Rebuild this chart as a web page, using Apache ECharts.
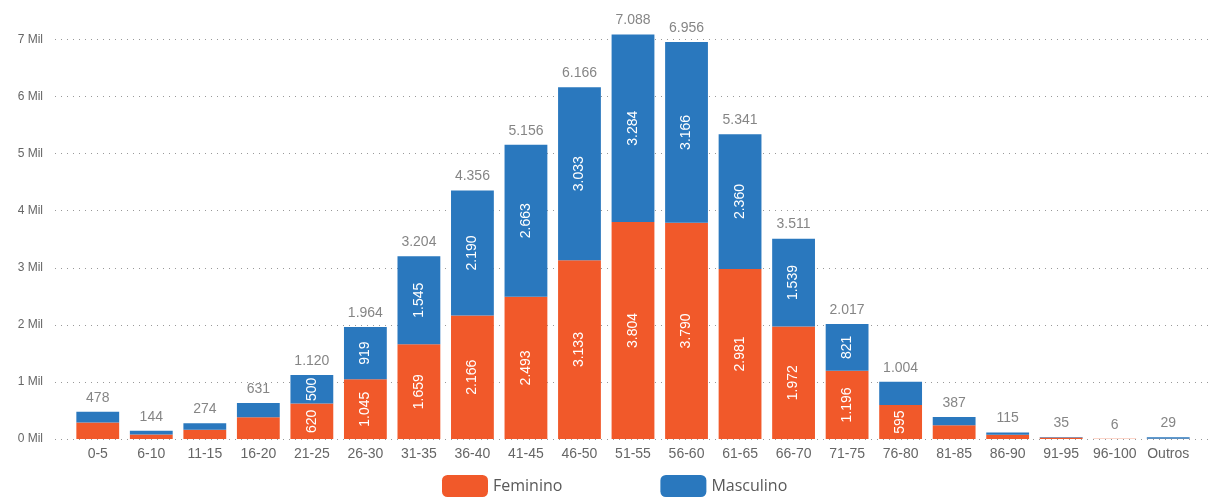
<!DOCTYPE html>
<html>
<head>
<meta charset="utf-8">
<script src="https://cdn.jsdelivr.net/npm/echarts@6/dist/echarts.min.js"></script>
<style>
  html, body { margin: 0; padding: 0; background: #fff; }
  #chart { width: 1211px; height: 503px; }
</style>
</head>
<body>
<div id="chart"></div>
<script>
'use strict';

// faixas etarias
var faixas = ['0-5', '6-10', '11-15', '16-20', '21-25', '26-30', '31-35', '36-40', '41-45', '46-50',
	'51-55', '56-60', '61-65', '66-70', '71-75', '76-80', '81-85', '86-90', '91-95', '96-100', 'Outros'];
var feminino = [290, 80, 160, 380, 620, 1045, 1659, 2166, 2493, 3133,
	3804, 3790, 2981, 1972, 1196, 595, 240, 75, 25, 3, 4];
var masculino = [188, 64, 114, 251, 500, 919, 1545, 2190, 2663, 3033,
	3284, 3166, 2360, 1539, 821, 409, 147, 40, 10, 3, 25];
var totais = [478, 144, 274, 631, 1120, 1964, 3204, 4356, 5156, 6166,
	7088, 6956, 5341, 3511, 2017, 1004, 387, 115, 35, 6, 29];
var yTicks = [0, 1000, 2000, 3000, 4000, 5000, 6000, 7000];

var FONT = 'Liberation Sans';

// 1045 -> "1.045"
function fmt(v) {
	return String(v).replace(/\B(?=(\d{3})+(?!\d))/g, '.');
}

function insideLabel() {
	return {
		show: true,
		position: 'inside',
		rotate: 90,
		color: '#fff',
		fontSize: 14,
		fontFamily: FONT,
		formatter: function(p) {
			return p.value >= 450 ? fmt(p.value) : '';
		}
	};
}

var myChart = echarts.init(document.getElementById('chart'));
var option = {
	backgroundColor: '#fff',
	animation: false,
	grid: [
		{ left: 71, right: 16, top: 11, bottom: 64 },
		// grade so para as linhas pontilhadas, mais larga
		{ left: 55, right: 0, top: 11, bottom: 64 }
	],
	legend: {
		bottom: 1,
		left: 437,
		itemWidth: 46,
		itemHeight: 22,
		itemGap: 98,
		icon: 'roundRect',
		textStyle: { color: '#595959', fontSize: 16, fontFamily: 'Open Sans' },
		data: ['Feminino', 'Masculino']
	},
	xAxis: [{
		type: 'category',
		gridIndex: 0,
		data: faixas,
		axisLine: { show: false },
		axisTick: { show: false },
		axisLabel: { color: '#666', fontSize: 14, fontFamily: FONT, margin: 8, interval: 0 }
	}, {
		type: 'value',
		gridIndex: 1,
		show: false
	}],
	yAxis: [{
		type: 'value',
		gridIndex: 0,
		min: 0,
		max: 7500,
		interval: 1000,
		show: false
	}, {
		type: 'value',
		gridIndex: 1,
		min: 0,
		max: 7500,
		interval: 1000,
		axisLine: { show: false },
		axisTick: { show: false },
		axisLabel: {
			color: '#666',
			fontSize: 12,
			fontFamily: FONT,
			margin: 12,
			showMaxLabel: false,
			formatter: function(v) {
				return yTicks.indexOf(v) >= 0 ? (v / 1000) + ' Mil' : '';
			}
		},
		splitLine: {
			show: true,
			showMaxLine: false,
			lineStyle: { color: '#999', type: [1, 5], width: 1 }
		}
	}],
	series: [{
		name: 'Feminino',
		type: 'bar',
		stack: 'total',
		barCategoryGap: '20%',
		data: feminino,
		itemStyle: { color: '#F1592A' },
		label: insideLabel()
	}, {
		name: 'Masculino',
		type: 'bar',
		stack: 'total',
		barCategoryGap: '20%',
		data: masculino,
		itemStyle: { color: '#2A78BE' },
		label: insideLabel()
	}, {
		name: 'Total',
		type: 'scatter',
		data: totais,
		symbolSize: 0,
		silent: true,
		label: {
			show: true,
			position: 'top',
			distance: 7,
			color: '#666',
			fontSize: 14,
			fontFamily: FONT,
			formatter: function(p) {
				return fmt(p.value);
			}
		}
	}]
};
myChart.setOption(option);
</script>
</body>
</html>
